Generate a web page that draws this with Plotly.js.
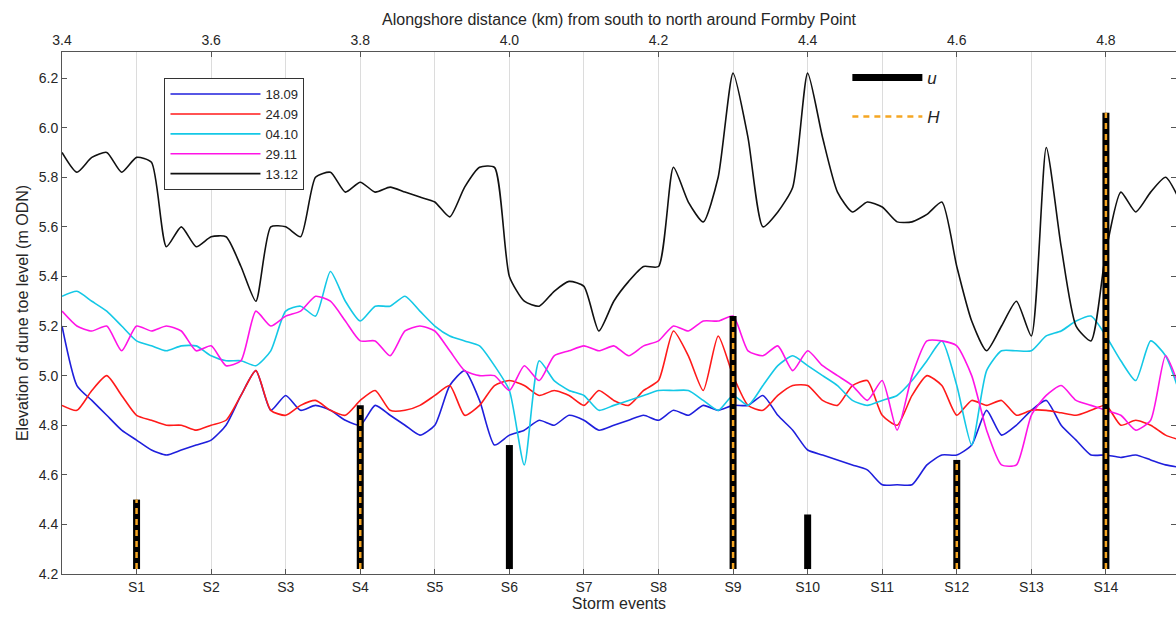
<!DOCTYPE html>
<html>
<head>
<script src="https://cdn.plot.ly/plotly-3.0.1.min.js"></script>
<style>body{margin:0}#plot{width:1176px;height:628px}</style>
</head>
<body>
<div id="plot"></div>
<script>
// DATA
const km = [];
for (let i = 0; i <= 75; i++) km.push(+(3.4 + i * 0.02).toFixed(2));

const s1809 = [5.20,4.96,4.90,4.84,4.78,4.74,4.70,4.68,4.70,4.72,4.74,4.80,4.92,5.02,4.86,4.92,4.86,4.88,4.86,4.82,
  4.80,4.88,4.84,4.80,4.76,4.80,4.96,5.02,4.90,4.72,4.76,4.78,4.82,4.80,4.84,4.82,4.78,4.80,4.82,4.84,
  4.82,4.86,4.84,4.88,4.86,4.88,4.88,4.92,4.84,4.78,4.70,4.68,4.66,4.64,4.62,4.56,4.56,4.56,4.64,4.68,
  4.68,4.72,4.86,4.76,4.80,4.86,4.90,4.80,4.74,4.68,4.68,4.67,4.68,4.66,4.64,4.63];
const s2409 = [4.88,4.86,4.94,5.00,4.92,4.84,4.82,4.80,4.80,4.78,4.80,4.82,4.92,5.02,4.86,4.84,4.88,4.90,4.86,4.84,
  4.90,4.94,4.86,4.86,4.88,4.92,4.96,4.84,4.88,4.96,4.98,4.96,4.92,4.94,4.92,4.88,4.94,4.90,4.88,4.94,
  4.98,5.18,5.08,4.94,5.16,5.00,4.88,4.86,4.92,4.96,4.96,4.90,4.88,4.96,4.98,4.84,4.80,4.92,5.00,4.96,
  4.84,4.90,4.88,4.90,4.84,4.86,4.86,4.85,4.84,4.86,4.88,4.80,4.82,4.80,4.76,4.74];
const s0410 = [5.32,5.34,5.30,5.26,5.20,5.14,5.12,5.10,5.12,5.12,5.08,5.06,5.06,5.04,5.10,5.26,5.28,5.24,5.42,5.30,
  5.22,5.28,5.28,5.32,5.26,5.20,5.16,5.14,5.12,5.04,4.94,4.64,5.06,4.98,4.94,4.92,4.86,4.88,4.90,4.92,
  4.94,4.94,4.94,4.90,4.86,4.92,4.88,4.96,5.04,5.08,5.04,5.00,4.96,4.90,4.88,4.90,4.92,4.98,5.06,5.14,
  4.96,4.72,5.02,5.10,5.10,5.10,5.16,5.18,5.22,5.24,5.16,5.06,4.98,5.14,5.08,4.92];
const s2911 = [5.26,5.20,5.18,5.20,5.10,5.20,5.18,5.20,5.18,5.10,5.12,5.04,5.06,5.26,5.20,5.24,5.26,5.32,5.30,5.22,
  5.14,5.14,5.08,5.18,5.20,5.18,5.10,5.02,5.00,5.00,4.94,5.04,4.98,5.08,5.10,5.12,5.10,5.12,5.08,5.12,
  5.14,5.20,5.18,5.22,5.22,5.24,5.10,5.08,5.12,5.02,5.10,5.04,5.00,4.96,4.90,4.98,4.78,5.00,5.14,5.14,
  5.12,5.00,4.78,4.64,4.64,4.84,4.92,4.96,4.90,4.88,4.86,4.84,4.78,4.82,5.08,4.94];
const s1312 = [5.90,5.82,5.88,5.90,5.82,5.88,5.86,5.52,5.60,5.52,5.56,5.56,5.44,5.30,5.60,5.60,5.56,5.80,5.82,5.74,
  5.78,5.74,5.76,5.74,5.72,5.70,5.64,5.76,5.84,5.84,5.40,5.30,5.28,5.34,5.38,5.36,5.18,5.30,5.38,5.44,
  5.44,5.84,5.70,5.62,5.80,6.22,5.96,5.60,5.66,5.76,6.22,5.96,5.74,5.66,5.70,5.68,5.62,5.62,5.65,5.70,
  5.44,5.22,5.10,5.20,5.30,5.16,5.92,5.52,5.20,5.14,5.50,5.74,5.66,5.74,5.80,5.70];

const series_names = ['18.09', '24.09', '04.10', '29.11', '13.12'];
const series_colors = ['#1f1fdc', '#ff1a1a', '#14c8e6', '#ff14e6', '#111111'];
const series_values = [s1809, s2409, s0410, s2911, s1312];

// storm events: position (km), u bar top, H bar top (null = none)
const storm_labels = ['S1','S2','S3','S4','S5','S6','S7','S8','S9','S10','S11','S12','S13','S14'];
const storm_km = [3.5,3.6,3.7,3.8,3.9,4.0,4.1,4.2,4.3,4.4,4.5,4.6,4.7,4.8];
const bar_km = [3.5, 3.8, 4.0, 4.3, 4.4, 4.6, 4.8];
const u_top = [4.50, 4.88, 4.72, 5.24, 4.44, 4.66, 6.06];
const h_top = [4.50, 4.88, null, 5.24, null, 4.66, 6.06];
const bar_base = 4.22;
const top_ticks = [3.4, 3.6, 3.8, 4.0, 4.2, 4.4, 4.6, 4.8];

// TRACES
let data = [];
series_values.forEach((vals, i) => {
    data.push({
        type: 'scatter', mode: 'lines', name: series_names[i],
        x: km, y: vals, line: {color: series_colors[i], width: 1.6, shape: 'spline', smoothing: 0.6},
        legend: 'legend'
    });
});
bar_km.forEach((k, i) => {
    data.push({
        type: 'scatter', mode: 'lines', name: 'u', x: [k, k], y: [bar_base, u_top[i]],
        line: {color: '#000', width: 7}, legend: 'legend2', legendgroup: 'u', showlegend: i === 0
    });
});
bar_km.forEach((k, i) => {
    if (h_top[i] === null) return;
    data.push({
        type: 'scatter', mode: 'lines', name: 'H', x: [k, k], y: [bar_base, h_top[i]],
        line: {color: '#f5a623', width: 2.5, dash: '6px,5px'}, legend: 'legend2', legendgroup: 'h', showlegend: i === 0
    });
});
// dummy trace to activate top axis
data.push({type: 'scatter', x: [3.4], y: [null], xaxis: 'x2', showlegend: false, hoverinfo: 'skip'});

// LAYOUT
const font = {family: 'Liberation Sans, Arial, sans-serif', size: 14, color: '#262626'};
let layout = {
    width: 1176, height: 628,
    margin: {t: 52, r: 0, b: 54, l: 62},
    paper_bgcolor: '#fff', plot_bgcolor: '#fff',
    font: font,
    xaxis: {
        range: [3.4, 4.894], tickvals: storm_km, ticktext: storm_labels,
        showgrid: true, gridcolor: '#dcdcdc', zeroline: false,
        showline: true, linecolor: '#555', ticks: 'inside', ticklen: 5, tickcolor: '#555',
        title: {text: 'Storm events', font: {size: 16, color: '#262626'}, standoff: 4}
    },
    xaxis2: {
        overlaying: 'x', side: 'top', range: [3.4, 4.894], tickvals: top_ticks,
        ticktext: top_ticks.map(v => v.toFixed(1)),
        showgrid: false, zeroline: false, showline: true, linecolor: '#555',
        ticks: 'inside', ticklen: 5, tickcolor: '#555',
        title: {text: 'Alongshore distance (km) from south to north around Formby Point', font: {size: 16, color: '#262626'}, standoff: 2}
    },
    yaxis: {
        range: [4.2, 6.305], dtick: 0.2, tick0: 4.2, tickformat: '.1f',
        showgrid: false, zeroline: false, showline: true, linecolor: '#555', mirror: 'ticks',
        ticks: 'inside', ticklen: 5, tickcolor: '#555',
        title: {text: 'Elevation of dune toe level (m ODN)', font: {size: 16, color: '#262626'}, standoff: 6}
    },
    legend: {
        x: 0.092, y: 0.95, xanchor: 'left', yanchor: 'top',
        bgcolor: '#fff', bordercolor: '#333', borderwidth: 1,
        font: {size: 13, color: '#262626'}, tracegroupgap: 0, itemwidth: 90
    },
    legend2: {
        x: 0.705, y: 0.985, xanchor: 'left', yanchor: 'top',
        bgcolor: 'rgba(0,0,0,0)', borderwidth: 0,
        font: {size: 17, color: '#262626', style: 'italic'}, tracegroupgap: 14, itemwidth: 70
    },
    showlegend: true
};

const config = {displayModeBar: false, staticPlot: true};

Plotly.newPlot(document.getElementById('plot'), data, layout, config);
</script>
</body>
</html>
